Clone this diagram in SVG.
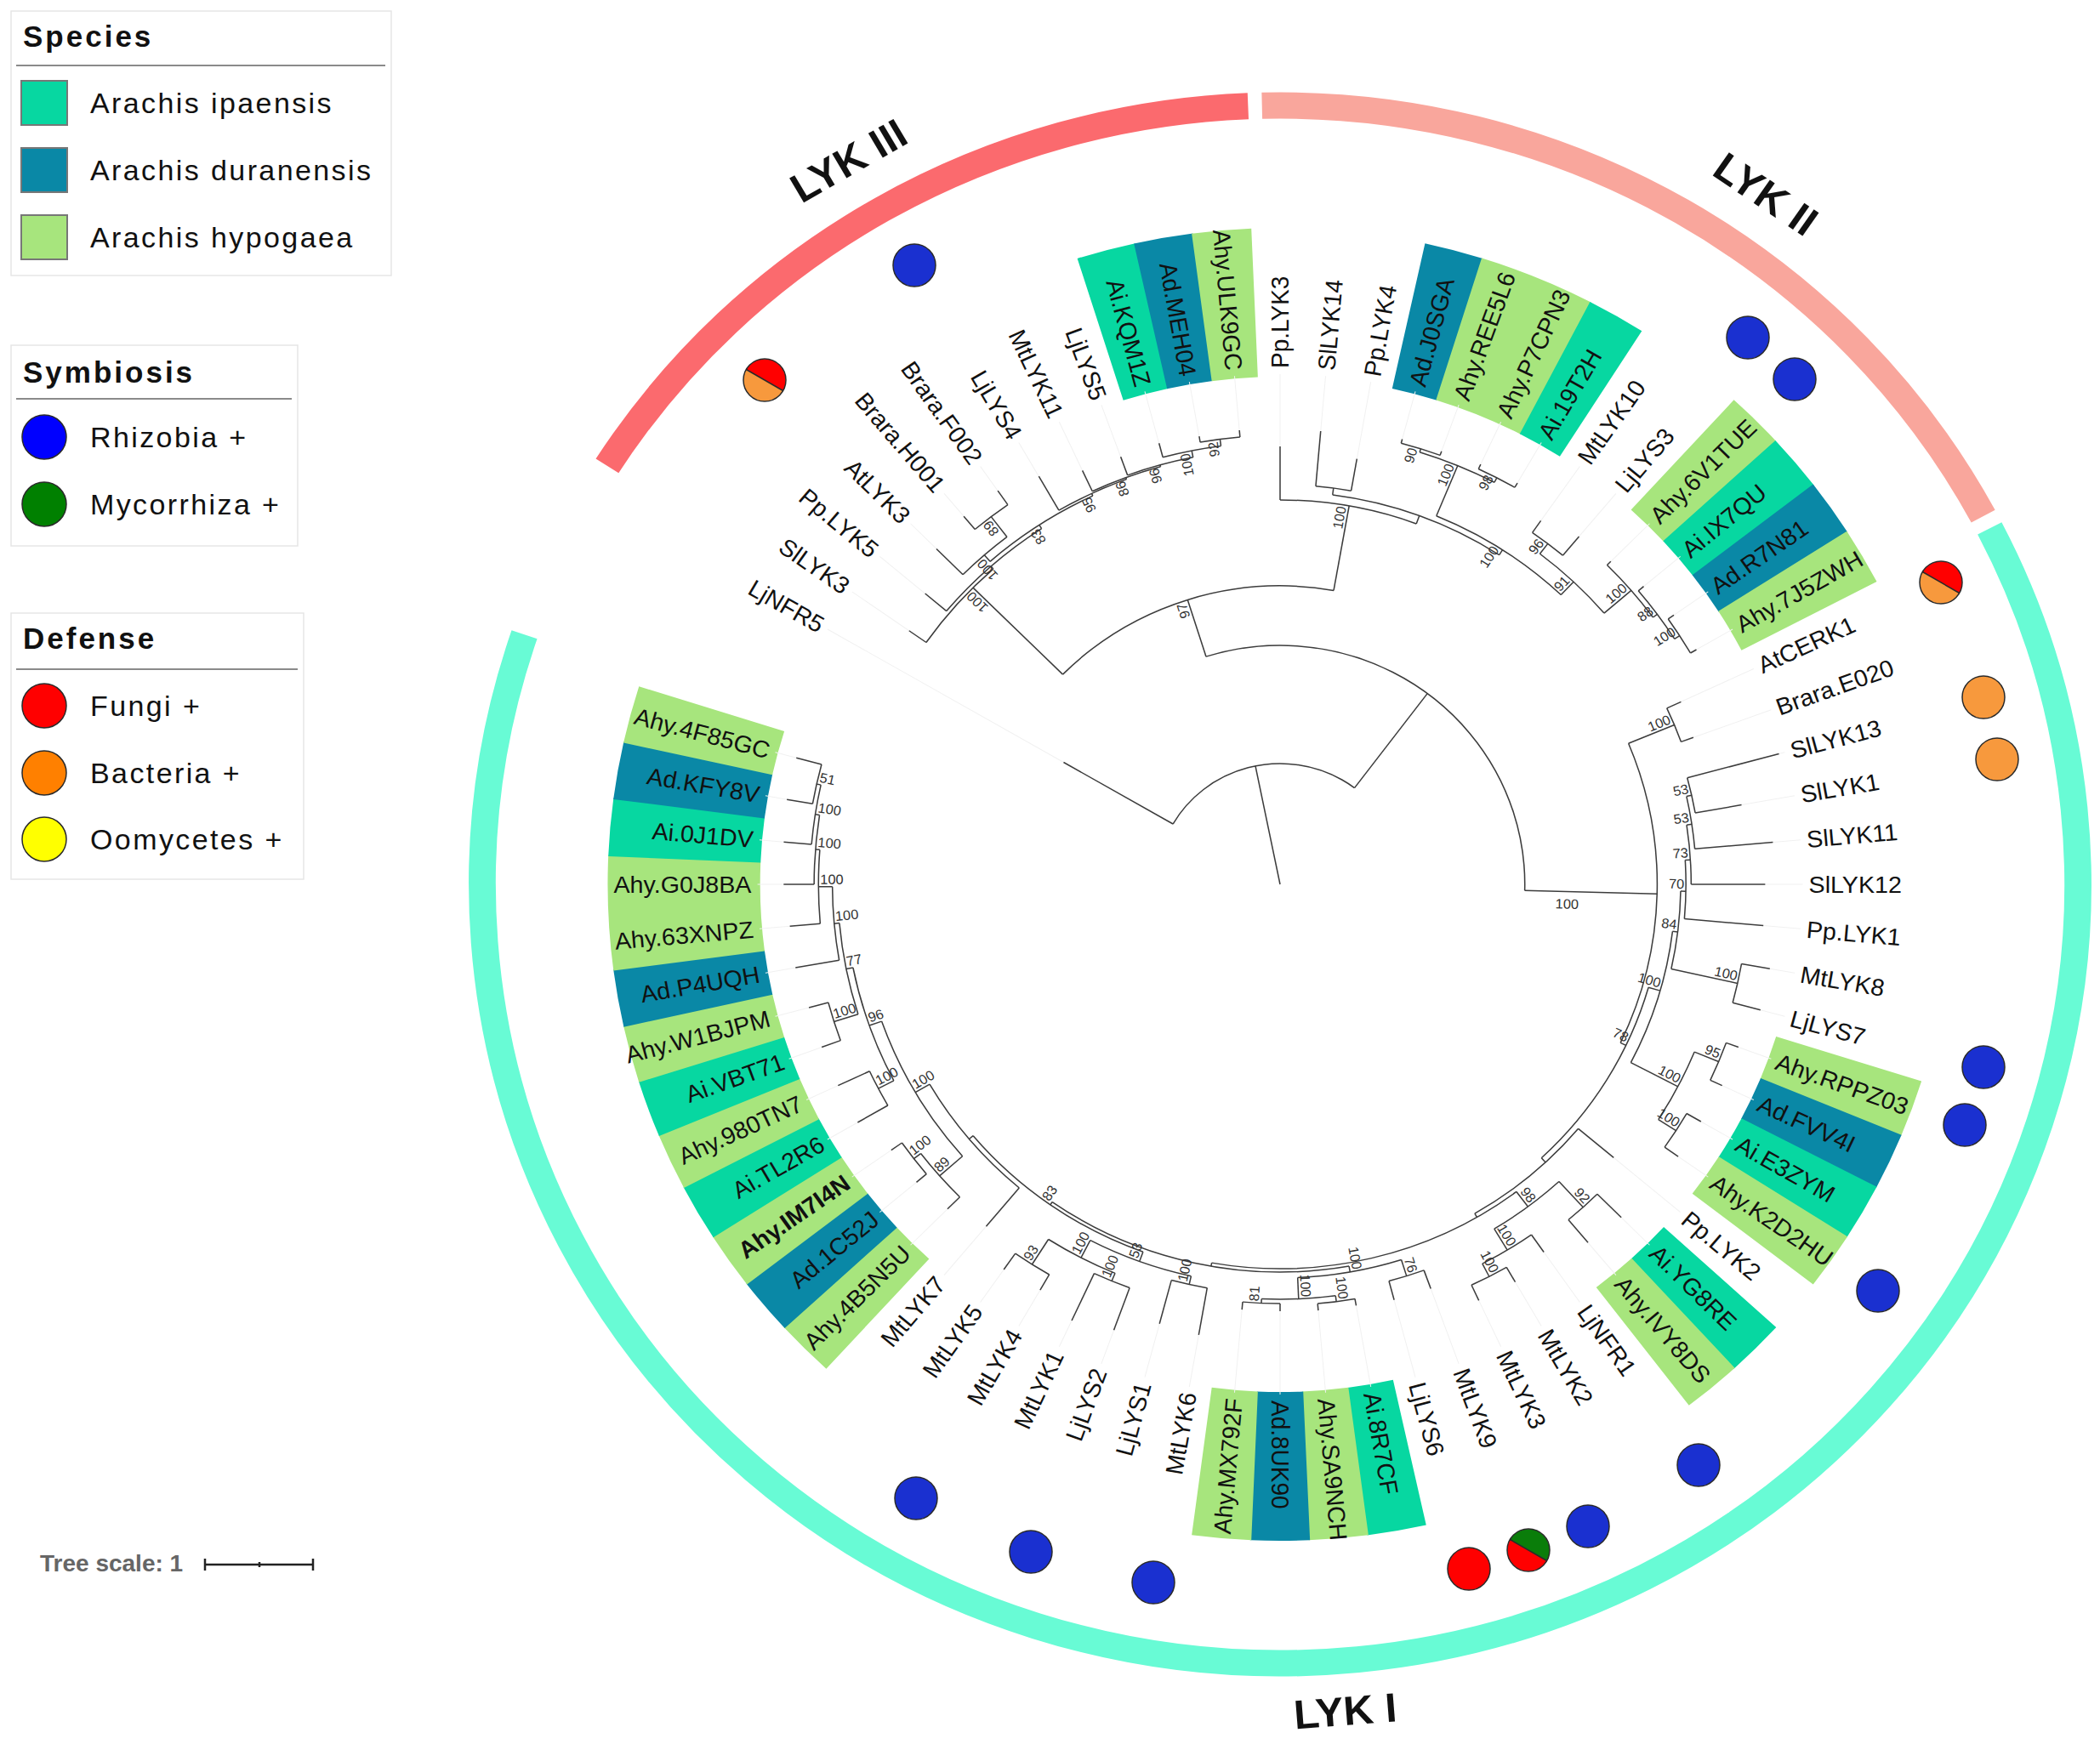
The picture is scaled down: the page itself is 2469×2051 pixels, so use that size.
<svg xmlns="http://www.w3.org/2000/svg" width="2469" height="2051" viewBox="0 0 2469 2051">
<style>
text{font-family:"Liberation Sans",Arial,sans-serif}
.lg{font-size:34px;letter-spacing:2.4px;fill:#111}
.lt{font-size:35px;font-weight:bold;letter-spacing:3px;fill:#111}
.box{fill:#fff;stroke:#e6e6e6;stroke-width:1.5}
.hr{stroke:#8a8a8a;stroke-width:2}
.sw{stroke:#777;stroke-width:2}
.b{fill:none;stroke:#3c3c3c;stroke-width:1.5}
.c{stroke:#f1f1f1;stroke-width:1}
.l{font-size:28px;dominant-baseline:central;fill:#111}
.e{text-anchor:end}
.s{font-size:16px;fill:#333;text-anchor:end}
.sf{text-anchor:start}
.blk{fill:none;stroke-width:175}
.ai{stroke:#07d7a1}.ad{stroke:#0a88a6}.ah{stroke:#a7e57d}
.ring{fill:none;stroke-width:31}
.mk{stroke:#2a2a2a;stroke-width:1.5}
.ck{font-size:48px;font-weight:bold;fill:#111;text-anchor:middle;dominant-baseline:central}
</style>
<rect width="2469" height="2051" fill="#fff"/>

<g id="legend-species">
<rect class="box" x="13" y="13" width="447" height="311"/>
<text class="lt" x="27" y="55">Species</text>
<line class="hr" x1="19" y1="77" x2="453" y2="77"/>
<rect class="sw" x="25" y="95" width="54" height="52" fill="#07d7a1"/>
<rect class="sw" x="25" y="174" width="54" height="52" fill="#0a88a6"/>
<rect class="sw" x="25" y="253" width="54" height="52" fill="#a7e57d"/>
<text class="lg" x="106" y="133">Arachis ipaensis</text>
<text class="lg" x="106" y="212">Arachis duranensis</text>
<text class="lg" x="106" y="291">Arachis hypogaea</text>
</g>
<g id="legend-symbiosis">
<rect class="box" x="13" y="406" width="337" height="236"/>
<text class="lt" x="27" y="450">Symbiosis</text>
<line class="hr" x1="19" y1="469" x2="343" y2="469"/>
<circle class="mk" cx="52" cy="514" r="26" fill="#0000ff"/>
<circle class="mk" cx="52" cy="593" r="26" fill="#008000"/>
<text class="lg" x="106" y="526">Rhizobia +</text>
<text class="lg" x="106" y="605">Mycorrhiza +</text>
</g>
<g id="legend-defense">
<rect class="box" x="13" y="721" width="344" height="313"/>
<text class="lt" x="27" y="763">Defense</text>
<line class="hr" x1="19" y1="787" x2="350" y2="787"/>
<circle class="mk" cx="52" cy="830" r="26" fill="#ff0000"/>
<circle class="mk" cx="52" cy="909" r="26" fill="#ff8000"/>
<circle class="mk" cx="52" cy="987" r="26" fill="#ffff00"/>
<text class="lg" x="106" y="842">Fungi +</text>
<text class="lg" x="106" y="921">Bacteria +</text>
<text class="lg" x="106" y="999">Oomycetes +</text>
</g>
<g id="tree-scale">
<text x="47" y="1848" style="font-size:28px;font-weight:bold;fill:#666">Tree scale: 1</text>
<path d="M241,1840H368M241,1833V1847M368,1833V1847M305,1837V1843" stroke="#222" stroke-width="2.5" fill="none"/>
</g>

<g id="tree" transform="translate(1505,1040) scale(1.024,1)">
<g id="rings">
<circle class="ring" r="916" stroke="#fb6a6e" pathLength="360" stroke-dasharray="55.2 720" transform="rotate(-147.5)"/>
<circle class="ring" r="916" stroke="#f9a69c" pathLength="360" stroke-dasharray="63.1 720" transform="rotate(-91.3)"/>
<circle class="ring" r="916" stroke="#68fbd5" pathLength="360" stroke-dasharray="225.9 720" transform="rotate(-27.2)"/>
<text class="ck" transform="rotate(-120.2) translate(985,0) rotate(90)">LYK III</text>
<text class="ck" transform="rotate(-55.5) translate(985,0) rotate(90)">LYK II</text>
<text class="ck" transform="rotate(85.6) translate(975,0) rotate(-90)">LYK I</text>
</g>
<g id="species-blocks">
<circle class="blk ai" r="684.5" pathLength="360" stroke-dasharray="5.1 720" transform="rotate(-107.55)"/>
<circle class="blk ad" r="684.5" pathLength="360" stroke-dasharray="5.1 720" transform="rotate(-102.55)"/>
<circle class="blk ah" r="684.5" pathLength="360" stroke-dasharray="5.1 720" transform="rotate(-97.55)"/>
<circle class="blk ad" r="684.5" pathLength="360" stroke-dasharray="5.1 720" transform="rotate(-77.55)"/>
<circle class="blk ah" r="684.5" pathLength="360" stroke-dasharray="10.1 720" transform="rotate(-72.55)"/>
<circle class="blk ai" r="684.5" pathLength="360" stroke-dasharray="5.1 720" transform="rotate(-62.55)"/>
<circle class="blk ah" r="684.5" pathLength="360" stroke-dasharray="5.1 720" transform="rotate(-47.55)"/>
<circle class="blk ai" r="684.5" pathLength="360" stroke-dasharray="5.1 720" transform="rotate(-42.55)"/>
<circle class="blk ad" r="684.5" pathLength="360" stroke-dasharray="5.1 720" transform="rotate(-37.55)"/>
<circle class="blk ah" r="684.5" pathLength="360" stroke-dasharray="5.1 720" transform="rotate(-32.55)"/>
<circle class="blk ah" r="684.5" pathLength="360" stroke-dasharray="5.1 720" transform="rotate(17.45)"/>
<circle class="blk ad" r="684.5" pathLength="360" stroke-dasharray="5.1 720" transform="rotate(22.45)"/>
<circle class="blk ai" r="684.5" pathLength="360" stroke-dasharray="5.1 720" transform="rotate(27.45)"/>
<circle class="blk ah" r="684.5" pathLength="360" stroke-dasharray="5.1 720" transform="rotate(32.45)"/>
<circle class="blk ai" r="684.5" pathLength="360" stroke-dasharray="5.1 720" transform="rotate(42.45)"/>
<circle class="blk ah" r="684.5" pathLength="360" stroke-dasharray="5.1 720" transform="rotate(47.45)"/>
<circle class="blk ai" r="684.5" pathLength="360" stroke-dasharray="5.1 720" transform="rotate(77.45)"/>
<circle class="blk ah" r="684.5" pathLength="360" stroke-dasharray="5.1 720" transform="rotate(82.45)"/>
<circle class="blk ad" r="684.5" pathLength="360" stroke-dasharray="5.1 720" transform="rotate(87.45)"/>
<circle class="blk ah" r="684.5" pathLength="360" stroke-dasharray="5.1 720" transform="rotate(92.45)"/>
<circle class="blk ah" r="684.5" pathLength="360" stroke-dasharray="5.1 720" transform="rotate(132.45)"/>
<circle class="blk ad" r="684.5" pathLength="360" stroke-dasharray="5.1 720" transform="rotate(137.45)"/>
<circle class="blk ah" r="684.5" pathLength="360" stroke-dasharray="5.1 720" transform="rotate(142.45)"/>
<circle class="blk ai" r="684.5" pathLength="360" stroke-dasharray="5.1 720" transform="rotate(147.45)"/>
<circle class="blk ah" r="684.5" pathLength="360" stroke-dasharray="5.1 720" transform="rotate(152.45)"/>
<circle class="blk ai" r="684.5" pathLength="360" stroke-dasharray="5.1 720" transform="rotate(157.45)"/>
<circle class="blk ah" r="684.5" pathLength="360" stroke-dasharray="5.1 720" transform="rotate(162.45)"/>
<circle class="blk ad" r="684.5" pathLength="360" stroke-dasharray="5.1 720" transform="rotate(167.45)"/>
<circle class="blk ah" r="684.5" pathLength="360" stroke-dasharray="10.1 720" transform="rotate(172.45)"/>
<circle class="blk ai" r="684.5" pathLength="360" stroke-dasharray="5.1 720" transform="rotate(182.45)"/>
<circle class="blk ad" r="684.5" pathLength="360" stroke-dasharray="5.1 720" transform="rotate(187.45)"/>
<circle class="blk ah" r="684.5" pathLength="360" stroke-dasharray="5.1 720" transform="rotate(192.45)"/>
</g>
<g id="connectors">
<g id="leaf-guides">
<line class="c" x1="287" x2="600" transform="rotate(-150)"/>
<line class="c" x1="520" x2="600" transform="rotate(-145)"/>
<line class="c" x1="532" x2="600" transform="rotate(-140)"/>
<line class="c" x1="558" x2="600" transform="rotate(-135)"/>
<line class="c" x1="565" x2="600" transform="rotate(-130)"/>
<line class="c" x1="565" x2="600" transform="rotate(-125)"/>
<line class="c" x1="554" x2="600" transform="rotate(-120)"/>
<line class="c" x1="537" x2="600" transform="rotate(-115)"/>
<line class="c" x1="535" x2="600" transform="rotate(-110)"/>
<line class="c" x1="537" x2="600" transform="rotate(-105)"/>
<line class="c" x1="535" x2="600" transform="rotate(-100)"/>
<line class="c" x1="536" x2="600" transform="rotate(-95)"/>
<line class="c" x1="515" x2="600" transform="rotate(-90)"/>
<line class="c" x1="535" x2="600" transform="rotate(-85)"/>
<line class="c" x1="508" x2="600" transform="rotate(-80)"/>
<line class="c" x1="542" x2="600" transform="rotate(-75)"/>
<line class="c" x1="542" x2="600" transform="rotate(-70)"/>
<line class="c" x1="545" x2="600" transform="rotate(-65)"/>
<line class="c" x1="545" x2="600" transform="rotate(-60)"/>
<line class="c" x1="522" x2="600" transform="rotate(-55)"/>
<line class="c" x1="534" x2="600" transform="rotate(-50)"/>
<line class="c" x1="537" x2="600" transform="rotate(-45)"/>
<line class="c" x1="545" x2="600" transform="rotate(-40)"/>
<line class="c" x1="552" x2="600" transform="rotate(-35)"/>
<line class="c" x1="552" x2="600" transform="rotate(-30)"/>
<line class="c" x1="508" x2="600" transform="rotate(-25)"/>
<line class="c" x1="505" x2="600" transform="rotate(-20)"/>
<line class="c" x1="593" x2="600" transform="rotate(-15)"/>
<line class="c" x1="538" x2="600" transform="rotate(-10)"/>
<line class="c" x1="568" x2="600" transform="rotate(-5)"/>
<line class="c" x1="557" x2="600" transform="rotate(0)"/>
<line class="c" x1="557" x2="600" transform="rotate(5)"/>
<line class="c" x1="571" x2="600" transform="rotate(10)"/>
<line class="c" x1="571" x2="600" transform="rotate(15)"/>
<line class="c" x1="560" x2="600" transform="rotate(20)"/>
<line class="c" x1="560" x2="600" transform="rotate(25)"/>
<line class="c" x1="558" x2="600" transform="rotate(30)"/>
<line class="c" x1="558" x2="600" transform="rotate(35)"/>
<line class="c" x1="500" x2="600" transform="rotate(40)"/>
<line class="c" x1="554" x2="600" transform="rotate(45)"/>
<line class="c" x1="550" x2="600" transform="rotate(50)"/>
<line class="c" x1="528" x2="600" transform="rotate(55)"/>
<line class="c" x1="540" x2="600" transform="rotate(60)"/>
<line class="c" x1="540" x2="600" transform="rotate(65)"/>
<line class="c" x1="506" x2="600" transform="rotate(70)"/>
<line class="c" x1="506" x2="600" transform="rotate(75)"/>
<line class="c" x1="503" x2="600" transform="rotate(80)"/>
<line class="c" x1="503" x2="600" transform="rotate(85)"/>
<line class="c" x1="502" x2="600" transform="rotate(90)"/>
<line class="c" x1="502" x2="600" transform="rotate(95)"/>
<line class="c" x1="538" x2="600" transform="rotate(100)"/>
<line class="c" x1="535" x2="600" transform="rotate(105)"/>
<line class="c" x1="558" x2="600" transform="rotate(110)"/>
<line class="c" x1="566" x2="600" transform="rotate(115)"/>
<line class="c" x1="551" x2="600" transform="rotate(120)"/>
<line class="c" x1="553" x2="600" transform="rotate(125)"/>
<line class="c" x1="525" x2="600" transform="rotate(130)"/>
<line class="c" x1="540" x2="600" transform="rotate(135)"/>
<line class="c" x1="545" x2="600" transform="rotate(140)"/>
<line class="c" x1="545" x2="600" transform="rotate(145)"/>
<line class="c" x1="560" x2="600" transform="rotate(150)"/>
<line class="c" x1="560" x2="600" transform="rotate(155)"/>
<line class="c" x1="560" x2="600" transform="rotate(160)"/>
<line class="c" x1="560" x2="600" transform="rotate(165)"/>
<line class="c" x1="565" x2="600" transform="rotate(170)"/>
<line class="c" x1="565" x2="600" transform="rotate(175)"/>
<line class="c" x1="570" x2="600" transform="rotate(180)"/>
<line class="c" x1="572" x2="600" transform="rotate(185)"/>
<line class="c" x1="575" x2="600" transform="rotate(190)"/>
<line class="c" x1="575" x2="600" transform="rotate(195)"/>
</g>
<g id="arcs">
<circle class="b" r="142" pathLength="360" stroke-dasharray="97 720" transform="rotate(-150)"/>
<circle class="b" r="281" pathLength="360" stroke-dasharray="109.1 720" transform="rotate(-107.6)"/>
<circle class="b" r="351" pathLength="360" stroke-dasharray="55.4 720" transform="rotate(-135.3)"/>
<circle class="b" r="496" pathLength="360" stroke-dasharray="13.4 720" transform="rotate(-145)"/>
<circle class="b" r="500" pathLength="360" stroke-dasharray="16.8 720" transform="rotate(-140)"/>
<circle class="b" r="505" pathLength="360" stroke-dasharray="16.05 720" transform="rotate(-131.25)"/>
<circle class="b" r="515" pathLength="360" stroke-dasharray="7.5 720" transform="rotate(-135)"/>
<circle class="b" r="545" pathLength="360" stroke-dasharray="5 720" transform="rotate(-130)"/>
<circle class="b" r="508" pathLength="360" stroke-dasharray="9.7 720" transform="rotate(-120)"/>
<circle class="b" r="510" pathLength="360" stroke-dasharray="9.4 720" transform="rotate(-115)"/>
<circle class="b" r="512" pathLength="360" stroke-dasharray="8.75 720" transform="rotate(-110)"/>
<circle class="b" r="520" pathLength="360" stroke-dasharray="7.5 720" transform="rotate(-105)"/>
<circle class="b" r="528" pathLength="360" stroke-dasharray="5 720" transform="rotate(-100)"/>
<circle class="b" r="452" pathLength="360" stroke-dasharray="20.25 720" transform="rotate(-90)"/>
<circle class="b" r="462" pathLength="360" stroke-dasharray="25.5 720" transform="rotate(-82.5)"/>
<circle class="b" r="470" pathLength="360" stroke-dasharray="5 720" transform="rotate(-85)"/>
<circle class="b" r="469" pathLength="360" stroke-dasharray="20.95 720" transform="rotate(-67.5)"/>
<circle class="b" r="533" pathLength="360" stroke-dasharray="10 720" transform="rotate(-72.5)"/>
<circle class="b" r="537" pathLength="360" stroke-dasharray="5 720" transform="rotate(-75)"/>
<circle class="b" r="539" pathLength="360" stroke-dasharray="5 720" transform="rotate(-65)"/>
<circle class="b" r="490" pathLength="360" stroke-dasharray="11.9 720" transform="rotate(-52.5)"/>
<circle class="b" r="505" pathLength="360" stroke-dasharray="5 720" transform="rotate(-55)"/>
<circle class="b" r="531" pathLength="360" stroke-dasharray="8.75 720" transform="rotate(-45)"/>
<circle class="b" r="537" pathLength="360" stroke-dasharray="7.5 720" transform="rotate(-40)"/>
<circle class="b" r="544" pathLength="360" stroke-dasharray="5 720" transform="rotate(-35)"/>
<circle class="b" r="433" pathLength="360" stroke-dasharray="48 720" transform="rotate(-22.5)"/>
<circle class="b" r="490" pathLength="360" stroke-dasharray="5 720" transform="rotate(-25)"/>
<circle class="b" r="440" pathLength="360" stroke-dasharray="31 720" transform="rotate(16)"/>
<circle class="b" r="454" pathLength="360" stroke-dasharray="20.5 720" transform="rotate(7)"/>
<circle class="b" r="460" pathLength="360" stroke-dasharray="11.5 720" transform="rotate(1)"/>
<circle class="b" r="466" pathLength="360" stroke-dasharray="8.5 720" transform="rotate(-3.5)"/>
<circle class="b" r="472" pathLength="360" stroke-dasharray="8.5 720" transform="rotate(-8.5)"/>
<circle class="b" r="478" pathLength="360" stroke-dasharray="7.5 720" transform="rotate(-12.5)"/>
<circle class="b" r="484" pathLength="360" stroke-dasharray="5 720" transform="rotate(-15)"/>
<circle class="b" r="538" pathLength="360" stroke-dasharray="5 720" transform="rotate(10)"/>
<circle class="b" r="515" pathLength="360" stroke-dasharray="10 720" transform="rotate(22.5)"/>
<circle class="b" r="545" pathLength="360" stroke-dasharray="5 720" transform="rotate(20)"/>
<circle class="b" r="539" pathLength="360" stroke-dasharray="5 720" transform="rotate(30)"/>
<circle class="b" r="447" pathLength="360" stroke-dasharray="20 720" transform="rotate(40)"/>
<circle class="b" r="452" pathLength="360" stroke-dasharray="46.9 720" transform="rotate(53.1)"/>
<circle class="b" r="474" pathLength="360" stroke-dasharray="11.25 720" transform="rotate(47.5)"/>
<circle class="b" r="515" pathLength="360" stroke-dasharray="5 720" transform="rotate(45)"/>
<circle class="b" r="503" pathLength="360" stroke-dasharray="7.5 720" transform="rotate(55)"/>
<circle class="b" r="520" pathLength="360" stroke-dasharray="5 720" transform="rotate(60)"/>
<circle class="b" r="456" pathLength="360" stroke-dasharray="45 720" transform="rotate(80)"/>
<circle class="b" r="463" pathLength="360" stroke-dasharray="15 720" transform="rotate(72.5)"/>
<circle class="b" r="483" pathLength="360" stroke-dasharray="5 720" transform="rotate(70)"/>
<circle class="b" r="488" pathLength="360" stroke-dasharray="10 720" transform="rotate(82.5)"/>
<circle class="b" r="495" pathLength="360" stroke-dasharray="5 720" transform="rotate(80)"/>
<circle class="b" r="493" pathLength="360" stroke-dasharray="5 720" transform="rotate(90)"/>
<circle class="b" r="460" pathLength="360" stroke-dasharray="30 720" transform="rotate(110)"/>
<circle class="b" r="472" pathLength="360" stroke-dasharray="15 720" transform="rotate(102.5)"/>
<circle class="b" r="482" pathLength="360" stroke-dasharray="5 720" transform="rotate(100)"/>
<circle class="b" r="495" pathLength="360" stroke-dasharray="10 720" transform="rotate(112.5)"/>
<circle class="b" r="505" pathLength="360" stroke-dasharray="5 720" transform="rotate(110)"/>
<circle class="b" r="530" pathLength="360" stroke-dasharray="5 720" transform="rotate(120)"/>
<circle class="b" r="466" pathLength="360" stroke-dasharray="19.7 720" transform="rotate(130)"/>
<circle class="b" r="485" pathLength="360" stroke-dasharray="21.85 720" transform="rotate(138.75)"/>
<circle class="b" r="520" pathLength="360" stroke-dasharray="7.5 720" transform="rotate(135)"/>
<circle class="b" r="530" pathLength="360" stroke-dasharray="5 720" transform="rotate(140)"/>
<circle class="b" r="500" pathLength="360" stroke-dasharray="16.2 720" transform="rotate(152.5)"/>
<circle class="b" r="520" pathLength="360" stroke-dasharray="5 720" transform="rotate(150)"/>
<circle class="b" r="508" pathLength="360" stroke-dasharray="12.35 720" transform="rotate(162.5)"/>
<circle class="b" r="537" pathLength="360" stroke-dasharray="5 720" transform="rotate(160)"/>
<circle class="b" r="514" pathLength="360" stroke-dasharray="9.7 720" transform="rotate(170)"/>
<circle class="b" r="530" pathLength="360" stroke-dasharray="9.4 720" transform="rotate(175)"/>
<circle class="b" r="535" pathLength="360" stroke-dasharray="8.75 720" transform="rotate(180)"/>
<circle class="b" r="540" pathLength="360" stroke-dasharray="7.5 720" transform="rotate(185)"/>
<circle class="b" r="545" pathLength="360" stroke-dasharray="5 720" transform="rotate(190)"/>
</g>
<g id="radials">
<line class="b" x1="0" x2="142" transform="rotate(-101.5)"/>
<line class="b" x1="142" x2="287" transform="rotate(-150)"/>
<line class="b" x1="142" x2="281" transform="rotate(-53)"/>
<line class="b" x1="281" x2="351" transform="rotate(-107.6)"/>
<line class="b" x1="281" x2="433" transform="rotate(1.5)"/>
<line class="b" x1="351" x2="496" transform="rotate(-135.3)"/>
<line class="b" x1="351" x2="452" transform="rotate(-79.9)"/>
<line class="b" x1="496" x2="520" transform="rotate(-145)"/>
<line class="b" x1="496" x2="500" transform="rotate(-131.6)"/>
<line class="b" x1="500" x2="532" transform="rotate(-140)"/>
<line class="b" x1="500" x2="505" transform="rotate(-123.2)"/>
<line class="b" x1="505" x2="515" transform="rotate(-131.25)"/>
<line class="b" x1="505" x2="508" transform="rotate(-115.2)"/>
<line class="b" x1="515" x2="558" transform="rotate(-135)"/>
<line class="b" x1="515" x2="545" transform="rotate(-127.5)"/>
<line class="b" x1="545" x2="565" transform="rotate(-130)"/>
<line class="b" x1="545" x2="565" transform="rotate(-125)"/>
<line class="b" x1="508" x2="554" transform="rotate(-120)"/>
<line class="b" x1="508" x2="510" transform="rotate(-110.3)"/>
<line class="b" x1="510" x2="537" transform="rotate(-115)"/>
<line class="b" x1="510" x2="512" transform="rotate(-105.6)"/>
<line class="b" x1="512" x2="535" transform="rotate(-110)"/>
<line class="b" x1="512" x2="520" transform="rotate(-101.25)"/>
<line class="b" x1="520" x2="537" transform="rotate(-105)"/>
<line class="b" x1="520" x2="528" transform="rotate(-97.5)"/>
<line class="b" x1="528" x2="535" transform="rotate(-100)"/>
<line class="b" x1="528" x2="536" transform="rotate(-95)"/>
<line class="b" x1="452" x2="515" transform="rotate(-90)"/>
<line class="b" x1="452" x2="462" transform="rotate(-69.75)"/>
<line class="b" x1="462" x2="470" transform="rotate(-82.5)"/>
<line class="b" x1="470" x2="535" transform="rotate(-85)"/>
<line class="b" x1="470" x2="508" transform="rotate(-80)"/>
<line class="b" x1="462" x2="469" transform="rotate(-57)"/>
<line class="b" x1="469" x2="533" transform="rotate(-67.5)"/>
<line class="b" x1="533" x2="537" transform="rotate(-72.5)"/>
<line class="b" x1="533" x2="539" transform="rotate(-62.5)"/>
<line class="b" x1="537" x2="542" transform="rotate(-75)"/>
<line class="b" x1="537" x2="542" transform="rotate(-70)"/>
<line class="b" x1="539" x2="545" transform="rotate(-65)"/>
<line class="b" x1="539" x2="545" transform="rotate(-60)"/>
<line class="b" x1="469" x2="490" transform="rotate(-46.55)"/>
<line class="b" x1="490" x2="505" transform="rotate(-52.5)"/>
<line class="b" x1="505" x2="522" transform="rotate(-55)"/>
<line class="b" x1="505" x2="534" transform="rotate(-50)"/>
<line class="b" x1="490" x2="531" transform="rotate(-40.6)"/>
<line class="b" x1="531" x2="537" transform="rotate(-45)"/>
<line class="b" x1="531" x2="537" transform="rotate(-36.25)"/>
<line class="b" x1="537" x2="545" transform="rotate(-40)"/>
<line class="b" x1="537" x2="544" transform="rotate(-32.5)"/>
<line class="b" x1="544" x2="552" transform="rotate(-35)"/>
<line class="b" x1="544" x2="552" transform="rotate(-30)"/>
<line class="b" x1="433" x2="490" transform="rotate(-22.5)"/>
<line class="b" x1="490" x2="508" transform="rotate(-25)"/>
<line class="b" x1="490" x2="505" transform="rotate(-20)"/>
<line class="b" x1="433" x2="440" transform="rotate(25.5)"/>
<line class="b" x1="440" x2="454" transform="rotate(16)"/>
<line class="b" x1="454" x2="460" transform="rotate(7)"/>
<line class="b" x1="460" x2="466" transform="rotate(1)"/>
<line class="b" x1="466" x2="472" transform="rotate(-3.5)"/>
<line class="b" x1="472" x2="478" transform="rotate(-8.5)"/>
<line class="b" x1="478" x2="484" transform="rotate(-12.5)"/>
<line class="b" x1="484" x2="593" transform="rotate(-15)"/>
<line class="b" x1="484" x2="538" transform="rotate(-10)"/>
<line class="b" x1="478" x2="568" transform="rotate(-5)"/>
<line class="b" x1="472" x2="557" transform="rotate(0)"/>
<line class="b" x1="466" x2="557" transform="rotate(5)"/>
<line class="b" x1="460" x2="538" transform="rotate(12.5)"/>
<line class="b" x1="538" x2="571" transform="rotate(10)"/>
<line class="b" x1="538" x2="571" transform="rotate(15)"/>
<line class="b" x1="454" x2="515" transform="rotate(27.5)"/>
<line class="b" x1="515" x2="545" transform="rotate(22.5)"/>
<line class="b" x1="515" x2="539" transform="rotate(32.5)"/>
<line class="b" x1="545" x2="560" transform="rotate(20)"/>
<line class="b" x1="545" x2="560" transform="rotate(25)"/>
<line class="b" x1="539" x2="558" transform="rotate(30)"/>
<line class="b" x1="539" x2="558" transform="rotate(35)"/>
<line class="b" x1="440" x2="447" transform="rotate(47)"/>
<line class="b" x1="447" x2="500" transform="rotate(40)"/>
<line class="b" x1="447" x2="452" transform="rotate(60)"/>
<line class="b" x1="452" x2="474" transform="rotate(53.1)"/>
<line class="b" x1="474" x2="515" transform="rotate(47.5)"/>
<line class="b" x1="515" x2="554" transform="rotate(45)"/>
<line class="b" x1="515" x2="550" transform="rotate(50)"/>
<line class="b" x1="474" x2="503" transform="rotate(58.75)"/>
<line class="b" x1="503" x2="528" transform="rotate(55)"/>
<line class="b" x1="503" x2="520" transform="rotate(62.5)"/>
<line class="b" x1="520" x2="540" transform="rotate(60)"/>
<line class="b" x1="520" x2="540" transform="rotate(65)"/>
<line class="b" x1="452" x2="456" transform="rotate(100)"/>
<line class="b" x1="456" x2="463" transform="rotate(80)"/>
<line class="b" x1="463" x2="483" transform="rotate(72.5)"/>
<line class="b" x1="483" x2="506" transform="rotate(70)"/>
<line class="b" x1="483" x2="506" transform="rotate(75)"/>
<line class="b" x1="463" x2="488" transform="rotate(87.5)"/>
<line class="b" x1="488" x2="495" transform="rotate(82.5)"/>
<line class="b" x1="488" x2="493" transform="rotate(92.5)"/>
<line class="b" x1="495" x2="503" transform="rotate(80)"/>
<line class="b" x1="495" x2="503" transform="rotate(85)"/>
<line class="b" x1="493" x2="502" transform="rotate(90)"/>
<line class="b" x1="493" x2="502" transform="rotate(95)"/>
<line class="b" x1="456" x2="460" transform="rotate(125)"/>
<line class="b" x1="460" x2="472" transform="rotate(110)"/>
<line class="b" x1="472" x2="482" transform="rotate(102.5)"/>
<line class="b" x1="482" x2="538" transform="rotate(100)"/>
<line class="b" x1="482" x2="535" transform="rotate(105)"/>
<line class="b" x1="472" x2="495" transform="rotate(117.5)"/>
<line class="b" x1="495" x2="505" transform="rotate(112.5)"/>
<line class="b" x1="505" x2="558" transform="rotate(110)"/>
<line class="b" x1="505" x2="566" transform="rotate(115)"/>
<line class="b" x1="495" x2="530" transform="rotate(122.5)"/>
<line class="b" x1="530" x2="551" transform="rotate(120)"/>
<line class="b" x1="530" x2="553" transform="rotate(125)"/>
<line class="b" x1="460" x2="466" transform="rotate(140)"/>
<line class="b" x1="466" x2="525" transform="rotate(130)"/>
<line class="b" x1="466" x2="485" transform="rotate(149.7)"/>
<line class="b" x1="485" x2="520" transform="rotate(138.75)"/>
<line class="b" x1="520" x2="540" transform="rotate(135)"/>
<line class="b" x1="520" x2="530" transform="rotate(142.5)"/>
<line class="b" x1="530" x2="545" transform="rotate(140)"/>
<line class="b" x1="530" x2="545" transform="rotate(145)"/>
<line class="b" x1="485" x2="500" transform="rotate(160.6)"/>
<line class="b" x1="500" x2="520" transform="rotate(152.5)"/>
<line class="b" x1="520" x2="560" transform="rotate(150)"/>
<line class="b" x1="520" x2="560" transform="rotate(155)"/>
<line class="b" x1="500" x2="508" transform="rotate(168.7)"/>
<line class="b" x1="508" x2="537" transform="rotate(162.5)"/>
<line class="b" x1="537" x2="560" transform="rotate(160)"/>
<line class="b" x1="537" x2="560" transform="rotate(165)"/>
<line class="b" x1="508" x2="514" transform="rotate(174.85)"/>
<line class="b" x1="514" x2="565" transform="rotate(170)"/>
<line class="b" x1="514" x2="530" transform="rotate(179.7)"/>
<line class="b" x1="530" x2="565" transform="rotate(175)"/>
<line class="b" x1="530" x2="535" transform="rotate(184.4)"/>
<line class="b" x1="535" x2="570" transform="rotate(180)"/>
<line class="b" x1="535" x2="540" transform="rotate(188.75)"/>
<line class="b" x1="540" x2="572" transform="rotate(185)"/>
<line class="b" x1="540" x2="545" transform="rotate(192.5)"/>
<line class="b" x1="545" x2="575" transform="rotate(190)"/>
<line class="b" x1="545" x2="575" transform="rotate(195)"/>
</g>
</g>
<g id="bootstrap">
<text class="s" transform="rotate(-107.6) translate(349,-3)">97</text>
<text class="s" transform="rotate(-135.3) translate(494,-3)">100</text>
<text class="s" transform="rotate(-79.9) translate(450,-3)">100</text>
<text class="s" transform="rotate(1.5) translate(330,20)" style="text-anchor:middle">100</text>
<text class="s" transform="rotate(-123.2) translate(503,-3)">83</text>
<text class="s" transform="rotate(-131.25) translate(513,-3)">100</text>
<text class="s" transform="rotate(-127.5) translate(543,-3)">89</text>
<text class="s" transform="rotate(-115.2) translate(506,-3)">95</text>
<text class="s" transform="rotate(-110.3) translate(508,-3)">86</text>
<text class="s" transform="rotate(-105.6) translate(510,-3)">96</text>
<text class="s" transform="rotate(-101.25) translate(518,-3)">100</text>
<text class="s" transform="rotate(-97.5) translate(526,-3)">92</text>
<text class="s" transform="rotate(-67.5) translate(531,-3)">100</text>
<text class="s" transform="rotate(-72.5) translate(535,-3)">90</text>
<text class="s" transform="rotate(-62.5) translate(537,-3)">98</text>
<text class="s" transform="rotate(-57) translate(467,-3)">100</text>
<text class="s" transform="rotate(-46.55) translate(488,-3)">91</text>
<text class="s" transform="rotate(-52.5) translate(503,-3)">96</text>
<text class="s" transform="rotate(-40.6) translate(529,-3)">100</text>
<text class="s" transform="rotate(-36.25) translate(535,-3)">88</text>
<text class="s" transform="rotate(-32.5) translate(542,-3)">100</text>
<text class="s" transform="rotate(-22.5) translate(488,-3)">100</text>
<text class="s" transform="rotate(-12.5) translate(482,-3)">53</text>
<text class="s" transform="rotate(-8.5) translate(476,-3)">53</text>
<text class="s" transform="rotate(-3.5) translate(470,-3)">73</text>
<text class="s" transform="rotate(1) translate(464,-3)">70</text>
<text class="s" transform="rotate(7) translate(458,-3)">84</text>
<text class="s" transform="rotate(12.5) translate(536,-3)">100</text>
<text class="s" transform="rotate(16) translate(452,-3)">100</text>
<text class="s" transform="rotate(27.5) translate(513,-3)">100</text>
<text class="s" transform="rotate(22.5) translate(543,-3)">95</text>
<text class="s" transform="rotate(32.5) translate(537,-3)">100</text>
<text class="s" transform="rotate(25.5) translate(438,-3)">78</text>
<text class="s" transform="rotate(53.1) translate(472,-3)">98</text>
<text class="s" transform="rotate(47.5) translate(513,-3)">92</text>
<text class="s" transform="rotate(58.75) translate(501,-3)">100</text>
<text class="s" transform="rotate(62.5) translate(518,-3)">100</text>
<text class="s" transform="rotate(80) translate(461,-3)">100</text>
<text class="s" transform="rotate(72.5) translate(481,-3)">76</text>
<text class="s" transform="rotate(87.5) translate(486,-3)">100</text>
<text class="s" transform="rotate(82.5) translate(493,-3)">100</text>
<text class="s sf" transform="rotate(92.5) translate(491,3) rotate(180)">81</text>
<text class="s sf" transform="rotate(125) translate(458,3) rotate(180)">83</text>
<text class="s sf" transform="rotate(110) translate(470,3) rotate(180)">53</text>
<text class="s sf" transform="rotate(102.5) translate(480,3) rotate(180)">100</text>
<text class="s sf" transform="rotate(117.5) translate(493,3) rotate(180)">100</text>
<text class="s sf" transform="rotate(112.5) translate(503,3) rotate(180)">100</text>
<text class="s sf" transform="rotate(122.5) translate(528,3) rotate(180)">93</text>
<text class="s sf" transform="rotate(149.7) translate(483,3) rotate(180)">100</text>
<text class="s sf" transform="rotate(138.75) translate(518,3) rotate(180)">89</text>
<text class="s sf" transform="rotate(142.5) translate(528,3) rotate(180)">100</text>
<text class="s sf" transform="rotate(160.6) translate(498,3) rotate(180)">96</text>
<text class="s sf" transform="rotate(152.5) translate(518,3) rotate(180)">100</text>
<text class="s sf" transform="rotate(168.7) translate(506,3) rotate(180)">77</text>
<text class="s sf" transform="rotate(162.5) translate(535,3) rotate(180)">100</text>
<text class="s sf" transform="rotate(174.85) translate(512,3) rotate(180)">100</text>
<text class="s sf" transform="rotate(179.7) translate(528,3) rotate(180)">100</text>
<text class="s sf" transform="rotate(184.4) translate(533,3) rotate(180)">100</text>
<text class="s sf" transform="rotate(188.75) translate(538,3) rotate(180)">100</text>
<text class="s sf" transform="rotate(192.5) translate(543,3) rotate(180)">51</text>
</g>
<g id="leaf-labels">
<text class="l e" transform="rotate(-150) translate(607) rotate(180)">LjNFR5</text>
<text class="l e" transform="rotate(-145) translate(607) rotate(180)">SlLYK3</text>
<text class="l e" transform="rotate(-140) translate(607) rotate(180)">Pp.LYK5</text>
<text class="l e" transform="rotate(-135) translate(607) rotate(180)">AtLYK3</text>
<text class="l e" transform="rotate(-130) translate(607) rotate(180)">Brara.H001</text>
<text class="l e" transform="rotate(-125) translate(607) rotate(180)">Brara.F002</text>
<text class="l e" transform="rotate(-120) translate(607) rotate(180)">LjLYS4</text>
<text class="l e" transform="rotate(-115) translate(607) rotate(180)">MtLYK11</text>
<text class="l e" transform="rotate(-110) translate(607) rotate(180)">LjLYS5</text>
<text class="l e" transform="rotate(-105) translate(607) rotate(180)">Ai.KQM1Z</text>
<text class="l e" transform="rotate(-100) translate(607) rotate(180)">Ad.MEH04</text>
<text class="l e" transform="rotate(-95) translate(607) rotate(180)">Ahy.ULK9GC</text>
<text class="l" transform="rotate(-90) translate(607)">Pp.LYK3</text>
<text class="l" transform="rotate(-85) translate(607)">SlLYK14</text>
<text class="l" transform="rotate(-80) translate(607)">Pp.LYK4</text>
<text class="l" transform="rotate(-75) translate(607)">Ad.J0SGA</text>
<text class="l" transform="rotate(-70) translate(607)">Ahy.REE5L6</text>
<text class="l" transform="rotate(-65) translate(607)">Ahy.P7CPN3</text>
<text class="l" transform="rotate(-60) translate(607)">Ai.19T2H</text>
<text class="l" transform="rotate(-55) translate(607)">MtLYK10</text>
<text class="l" transform="rotate(-50) translate(607)">LjLYS3</text>
<text class="l" transform="rotate(-45) translate(607)">Ahy.6V1TUE</text>
<text class="l" transform="rotate(-40) translate(607)">Ai.IX7QU</text>
<text class="l" transform="rotate(-35) translate(607)">Ad.R7N81</text>
<text class="l" transform="rotate(-30) translate(607)">Ahy.7J5ZWH</text>
<text class="l" transform="rotate(-25) translate(607)">AtCERK1</text>
<text class="l" transform="rotate(-20) translate(607)">Brara.E020</text>
<text class="l" transform="rotate(-15) translate(607)">SlLYK13</text>
<text class="l" transform="rotate(-10) translate(607)">SlLYK1</text>
<text class="l" transform="rotate(-5) translate(607)">SlLYK11</text>
<text class="l" transform="rotate(0) translate(607)">SlLYK12</text>
<text class="l" transform="rotate(5) translate(607)">Pp.LYK1</text>
<text class="l" transform="rotate(10) translate(607)">MtLYK8</text>
<text class="l" transform="rotate(15) translate(607)">LjLYS7</text>
<text class="l" transform="rotate(20) translate(607)">Ahy.RPPZ03</text>
<text class="l" transform="rotate(25) translate(607)">Ad.FVV4I</text>
<text class="l" transform="rotate(30) translate(607)">Ai.E3ZYM</text>
<text class="l" transform="rotate(35) translate(607)">Ahy.K2D2HU</text>
<text class="l" transform="rotate(40) translate(607)">Pp.LYK2</text>
<text class="l" transform="rotate(45) translate(607)">Ai.YG8RE</text>
<text class="l" transform="rotate(50) translate(607)">Ahy.IVY8DS</text>
<text class="l" transform="rotate(55) translate(607)">LjNFR1</text>
<text class="l" transform="rotate(60) translate(607)">MtLYK2</text>
<text class="l" transform="rotate(65) translate(607)">MtLYK3</text>
<text class="l" transform="rotate(70) translate(607)">MtLYK9</text>
<text class="l" transform="rotate(75) translate(607)">LjLYS6</text>
<text class="l" transform="rotate(80) translate(607)">Ai.8R7CF</text>
<text class="l" transform="rotate(85) translate(607)">Ahy.SA9NCH</text>
<text class="l" transform="rotate(90) translate(607)">Ad.8UK90</text>
<text class="l e" transform="rotate(95) translate(607) rotate(180)">Ahy.MX792F</text>
<text class="l e" transform="rotate(100) translate(607) rotate(180)">MtLYK6</text>
<text class="l e" transform="rotate(105) translate(607) rotate(180)">LjLYS1</text>
<text class="l e" transform="rotate(110) translate(607) rotate(180)">LjLYS2</text>
<text class="l e" transform="rotate(115) translate(607) rotate(180)">MtLYK1</text>
<text class="l e" transform="rotate(120) translate(607) rotate(180)">MtLYK4</text>
<text class="l e" transform="rotate(125) translate(607) rotate(180)">MtLYK5</text>
<text class="l e" transform="rotate(130) translate(607) rotate(180)">MtLYK7</text>
<text class="l e" transform="rotate(135) translate(607) rotate(180)">Ahy.4B5N5U</text>
<text class="l e" transform="rotate(140) translate(607) rotate(180)">Ad.1C52J</text>
<text class="l e" transform="rotate(145) translate(607) rotate(180)" font-weight="bold">Ahy.IM7I4N</text>
<text class="l e" transform="rotate(150) translate(607) rotate(180)">Ai.TL2R6</text>
<text class="l e" transform="rotate(155) translate(607) rotate(180)">Ahy.980TN7</text>
<text class="l e" transform="rotate(160) translate(607) rotate(180)">Ai.VBT71</text>
<text class="l e" transform="rotate(165) translate(607) rotate(180)">Ahy.W1BJPM</text>
<text class="l e" transform="rotate(170) translate(607) rotate(180)">Ad.P4UQH</text>
<text class="l e" transform="rotate(175) translate(607) rotate(180)">Ahy.63XNPZ</text>
<text class="l e" transform="rotate(180) translate(607) rotate(180)">Ahy.G0J8BA</text>
<text class="l e" transform="rotate(185) translate(607) rotate(180)">Ai.0J1DV</text>
<text class="l e" transform="rotate(190) translate(607) rotate(180)">Ad.KFY8V</text>
<text class="l e" transform="rotate(195) translate(607) rotate(180)">Ahy.4F85GC</text>
</g>
</g>

<g id="markers">
<circle class="mk" cx="1075" cy="312" r="25" fill="#1a30d0"/>
<g transform="translate(899,447)"><path d="M-21.65,-12.5A25 25 0 0 1 21.65,12.5Z" fill="#ff0000"/><path d="M-21.65,-12.5A25 25 0 0 0 21.65,12.5Z" fill="#f7993d"/><circle class="mk" r="25" fill="none"/><line class="mk" x1="-21.65" y1="-12.5" x2="21.65" y2="12.5"/></g>
<circle class="mk" cx="2055" cy="397" r="25" fill="#1a30d0"/>
<circle class="mk" cx="2110" cy="446" r="25" fill="#1a30d0"/>
<g transform="translate(2282,685)"><path d="M-21.65,-12.5A25 25 0 0 1 21.65,12.5Z" fill="#ff0000"/><path d="M-21.65,-12.5A25 25 0 0 0 21.65,12.5Z" fill="#f7993d"/><circle class="mk" r="25" fill="none"/><line class="mk" x1="-21.65" y1="-12.5" x2="21.65" y2="12.5"/></g>
<circle class="mk" cx="2332" cy="820" r="25" fill="#f7993d"/>
<circle class="mk" cx="2348" cy="893" r="25" fill="#f7993d"/>
<circle class="mk" cx="2332" cy="1255" r="25" fill="#1a30d0"/>
<circle class="mk" cx="2310" cy="1323" r="25" fill="#1a30d0"/>
<circle class="mk" cx="2208" cy="1518" r="25" fill="#1a30d0"/>
<circle class="mk" cx="1997" cy="1723" r="25" fill="#1a30d0"/>
<circle class="mk" cx="1867" cy="1795" r="25" fill="#1a30d0"/>
<g transform="translate(1797,1823)"><path d="M-21.65,-12.5A25 25 0 0 1 21.65,12.5Z" fill="#0a7d0a"/><path d="M-21.65,-12.5A25 25 0 0 0 21.65,12.5Z" fill="#ff0000"/><circle class="mk" r="25" fill="none"/><line class="mk" x1="-21.65" y1="-12.5" x2="21.65" y2="12.5"/></g>
<circle class="mk" cx="1727" cy="1845" r="25" fill="#ff0000"/>
<circle class="mk" cx="1356" cy="1861" r="25" fill="#1a30d0"/>
<circle class="mk" cx="1212" cy="1825" r="25" fill="#1a30d0"/>
<circle class="mk" cx="1077" cy="1762" r="25" fill="#1a30d0"/>
</g>
</svg>
